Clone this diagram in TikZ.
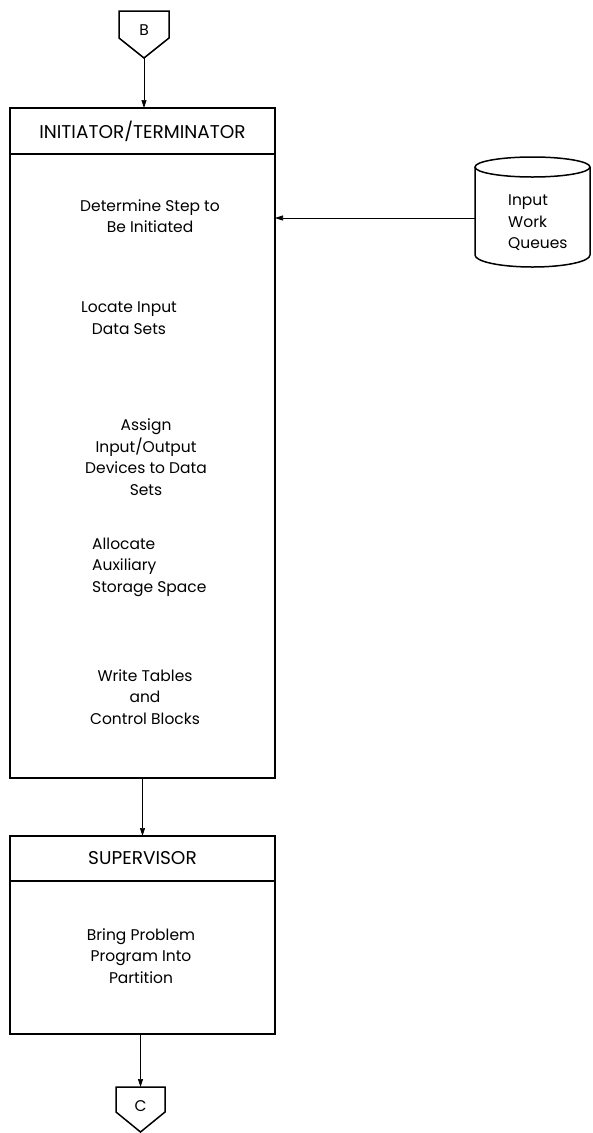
\documentclass[tikz,border=0pt]{standalone}
\usepackage{fontspec}
\setmainfont{Poppins}
\usetikzlibrary{arrows.meta,positioning}

\tikzset{
  box/.style={draw, line width=1.5pt, rectangle, minimum width=265pt, outer sep=0pt, inner sep=0pt},
  head/.style={box, font=\fontsize{18.5}{21.5}\selectfont},
  offpage/.style={draw, line width=1.5pt, line join=miter},
  txt/.style={align=center, inner sep=0pt},
  flow/.style={->, line width=0.7pt}
}

\begin{document}
\begin{tikzpicture}[x=1pt, y=-1pt, >={Triangle[length=8pt,width=5pt]},
  font=\fontsize{15.5}{21.5}\selectfont]
\useasboundingbox (0,0) rectangle (592,1133);

%connector in
\draw[offpage] (119,11) -- (169,11) -- (169,38) -- (144,58) coordinate (Btip) -- (119,38) -- cycle;
\node (B) at (144,30) {B};

%initiator/terminator
\node[box, minimum height=670pt, anchor=north west] (initbox) at (10,108) {};
\node[head, minimum height=46pt, anchor=north] (inithead) at (initbox.north) {INITIATOR/TERMINATOR};
\node[txt] (determine) at (150,216) {Determine Step to\\Be Initiated};
\node[txt] (locate) at (129,318) {Locate Input\\Data Sets};
\node[txt] (assign) at (146,457) {Assign\\Input/Output\\Devices to Data\\Sets};
\node[txt, align=left, anchor=west] (allocate) at (92,567) {Allocate\\Auxiliary\\Storage Space};
\node[txt] (writetab) at (145,697) {Write Tables\\and\\Control Blocks};

%work queues
\draw[line width=1.5pt] (532.5,167) ellipse [x radius=57.5, y radius=10];
\draw[line width=1.5pt] (475,167) -- (475,255) arc[start angle=180, end angle=0, x radius=57.5, y radius=12] -- (590,167);
\node[txt, align=left, anchor=west] (queues) at (508,223) {Input\\Work\\Queues};
\coordinate (qleft) at (475,218);

%supervisor
\node[box, minimum height=198pt, anchor=north west] (supbox) at (10,836) {};
\node[head, minimum height=45pt, anchor=north] (suphead) at (supbox.north) {SUPERVISOR};
\node[txt] (bring) at (141,956) {Bring Problem\\Program Into\\Partition};

%connector out
\draw[offpage] (116,1087) coordinate (Ctop) -- (165,1087) -- (165,1112) -- (140.5,1132) -- (116,1112) -- cycle;
\node (C) at (140.5,1106) {C};

%flow lines
\draw[flow] (Btip) -- (Btip |- initbox.north);
\draw[flow] (qleft) -- (qleft -| initbox.east);
\draw[flow] (initbox.south) -- (supbox.north);
\draw[flow] (C |- supbox.south) -- (C |- Ctop);
\end{tikzpicture}
\end{document}
